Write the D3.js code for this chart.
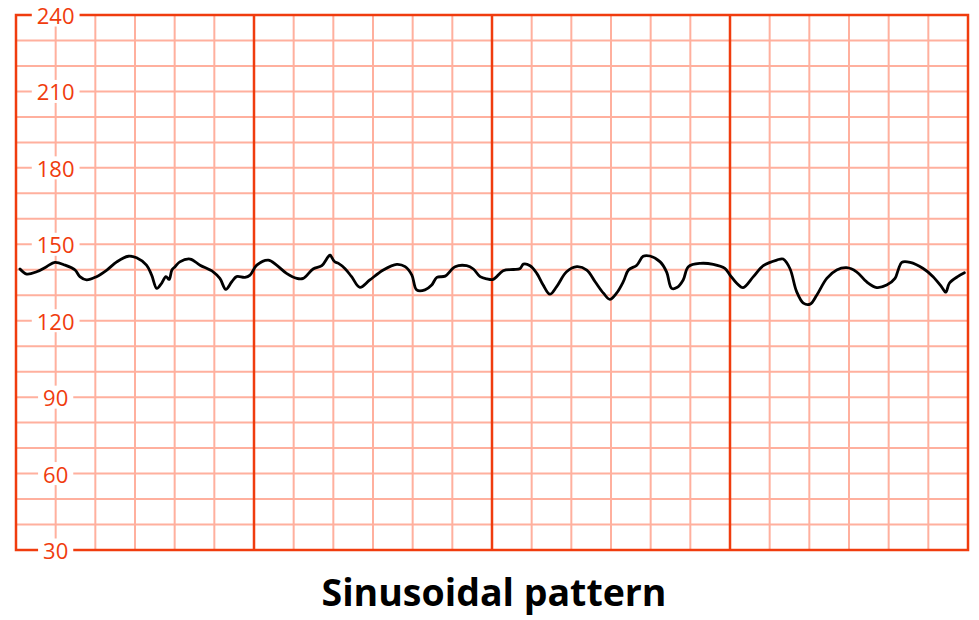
<!DOCTYPE html>
<html>
<head>
<meta charset="utf-8">
<script src="https://cdn.jsdelivr.net/npm/d3@7"></script>
<style>
  html, body { margin: 0; padding: 0; background: #fff; }
  svg { display: block; }
</style>
</head>
<body>
<svg id="chart" width="979" height="620"></svg>
<script>
// Data
const title = "Sinusoidal pattern";
const yTickValues = [30, 60, 90, 120, 150, 180, 210, 240];
const minutes = [0.10,0.27,0.52,0.77,0.98,1.24,1.49,1.61,1.78,2.03,2.29,2.54,2.83,3.04,3.29,3.42,3.55,3.67,3.78,3.86,3.93,4.01,4.13,4.39,4.64,4.97,5.14,5.29,5.44,5.56,5.77,5.90,6.07,6.36,6.57,6.82,7.08,7.24,7.49,7.71,7.87,7.92,8.00,8.04,8.13,8.29,8.46,8.67,8.92,9.26,9.60,9.81,9.98,10.10,10.31,10.48,10.61,10.82,11.07,11.36,11.53,11.70,11.87,12.03,12.28,12.54,12.71,12.79,12.96,13.13,13.29,13.46,13.63,13.88,14.14,14.39,14.60,14.81,14.97,15.14,15.31,15.44,15.65,15.81,15.98,16.24,16.40,16.53,16.66,16.82,16.95,17.25,17.58,17.87,18.00,18.17,18.33,18.59,18.84,19.18,19.34,19.51,19.68,19.85,20.02,20.19,20.44,20.69,20.94,21.19,21.44,21.70,21.95,22.16,22.24,22.33,22.54,22.87,23.12,23.33,23.44,23.53,23.74,23.91];
const bpm = [140.3,138.3,139.2,141.2,142.9,141.8,139.9,137.3,136.0,137.3,139.9,143.1,145.3,144.7,141.8,137.9,132.7,134.7,137.3,136.2,139.9,141.2,143.1,144.2,141.8,139.2,136.6,132.3,135.3,137.3,137.0,137.9,141.8,143.8,141.8,138.6,136.6,136.6,140.3,141.6,145.1,145.7,143.8,143.1,142.5,140.5,137.3,133.1,136.0,139.9,142.1,141.2,137.9,132.1,132.1,134.0,137.0,137.5,141.2,141.6,140.3,137.3,136.4,136.2,139.6,140.1,140.5,142.2,141.6,138.6,134.0,130.4,133.4,139.2,141.2,139.9,135.3,130.8,128.4,130.8,135.3,139.9,141.8,145.3,145.4,143.1,139.2,132.7,133.0,136.0,141.2,142.5,142.1,140.5,137.9,134.7,133.0,137.3,141.6,143.8,144.2,140.5,131.4,126.9,126.5,130.1,136.6,139.9,140.8,139.2,135.3,133.0,134.0,136.6,139.9,142.9,142.9,140.5,137.3,133.4,131.2,134.7,137.3,138.8];

const strong = "#f03c0e";
const light = "#ffb09e";

const svg = d3.select("#chart");
const x = d3.scaleLinear().domain([0, 24]).range([16, 968]);
const y = d3.scaleLinear().domain([30, 240]).range([550, 15]);

// minor grid
const g = svg.append("g");
g.selectAll("line.hm").data(d3.range(40, 240, 10)).join("line")
  .attr("x1", x(0)).attr("x2", x(24))
  .attr("y1", d => y(d)).attr("y2", d => y(d))
  .attr("stroke", light).attr("stroke-width", 2);
g.selectAll("line.vm").data(d3.range(1, 24).filter(d => d % 6 !== 0)).join("line")
  .attr("y1", y(30)).attr("y2", y(240))
  .attr("x1", d => x(d)).attr("x2", d => x(d))
  .attr("stroke", light).attr("stroke-width", 2);
// major verticals
svg.append("g").selectAll("line").data([6, 12, 18]).join("line")
  .attr("y1", y(30)).attr("y2", y(240))
  .attr("x1", d => x(d)).attr("x2", d => x(d))
  .attr("stroke", strong).attr("stroke-width", 2.5);
// border
svg.append("rect")
  .attr("x", x(0)).attr("y", y(240))
  .attr("width", x(24) - x(0)).attr("height", y(30) - y(240))
  .attr("fill", "none").attr("stroke", strong).attr("stroke-width", 2.5);

// labels
const labG = svg.append("g");
yTickValues.forEach(v => {
  const t = labG.append("text")
    .attr("x", x(1)).attr("y", y(v))
    .attr("text-anchor", "middle").attr("dominant-baseline", "central")
    .attr("font-family", "'Open Sans', 'Noto Sans', sans-serif")
    .attr("font-size", 22).attr("fill", strong)
    .text(v);
  const bb = t.node().getBBox();
  labG.insert("rect", "text")
    .attr("x", bb.x - 5).attr("y", y(v) - 11.5)
    .attr("width", bb.width + 10).attr("height", 23)
    .attr("fill", "#fff");
});

// trace
const pts = minutes.map((m, i) => [m, bpm[i]]);
svg.append("path")
  .datum(pts)
  .attr("d", d3.line().x(d => x(d[0])).y(d => y(d[1])).curve(d3.curveCatmullRom.alpha(0.5)))
  .attr("fill", "none").attr("stroke", "#000").attr("stroke-width", 2.8)
  .attr("stroke-linejoin", "round").attr("stroke-linecap", "round");

// title
svg.append("text")
  .attr("x", 494).attr("y", 606)
  .attr("text-anchor", "middle")
  .attr("font-family", "'Open Sans', 'Noto Sans', sans-serif")
  .attr("font-weight", "bold").attr("font-size", 37.5).attr("fill", "#000")
  .text(title);
</script>
</body>
</html>
